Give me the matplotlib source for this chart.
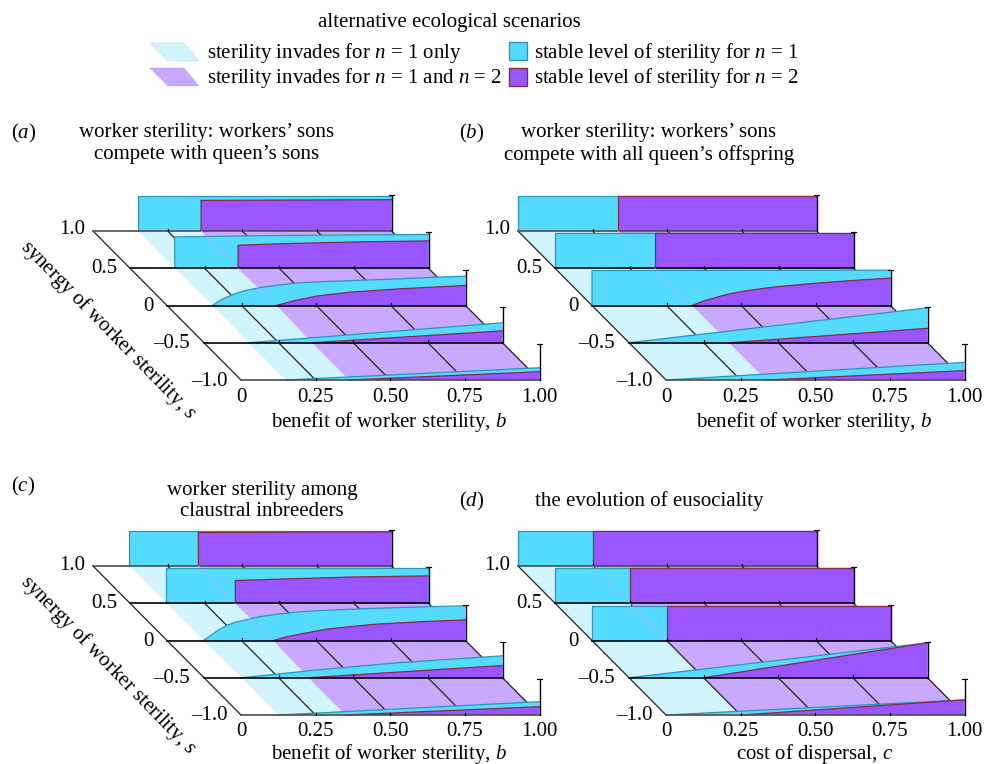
import numpy as np
import matplotlib
matplotlib.use('Agg')
import matplotlib.pyplot as plt
from matplotlib.patches import Polygon

plt.rcParams['font.family'] = ['Liberation Serif', 'DejaVu Serif']
plt.rcParams['mathtext.fontset'] = 'custom'
plt.rcParams['mathtext.rm'] = 'Liberation Serif'
plt.rcParams['mathtext.it'] = 'Liberation Serif:italic'

# rows run from the back (s = 1) to the front (s = -1)
s_labels = ['1.0', '0.5', '0', '\u20130.5', '\u20131.0']
x_ticks = [0, 0.25, 0.50, 0.75, 1.00]
x_labels = ['0', '0.25', '0.50', '0.75', '1.00']

# panel a
a_n1_b = [[.15, 1], [.15, .5, 1],
          [.153, .175, .217, .26, .312, .376, .446, .53, .613, .78, .88, 1],
          [.15, 1], [.15, 1]]
a_n1_z = [[.97, .97], [.87, .91, .94],
          [0, .13, .296, .41, .5, .57, .63, .665, .69, .74, .78, .815],
          [0, .555], [0, .34]]
a_n2_b = [[.362, 1], [.362, .5, .75, 1], [.367, .43, .50, .613, .78, .89, 1], [.362, 1], [.362, 1]]
a_n2_z = [[.85, .87], [.64, .68, .73, .76], [0, .14, .26, .37, .463, .51, .555], [0, .33], [0, .23]]

# panel b
b_n1_b = [[0, 1], [0, 1], [0, 1], [0, 1], [0, 1]]
b_n1_z = [[.97, .97], [.97, .97], [.97, .98], [0, .97], [0, .49]]
b_n2_b = [[.335, 1], [.335, 1], [.335, .38, .426, .47, .515, .57, .627, .71, .795, .9, 1], [.335, 1], [.335, 1]]
b_n2_z = [[.97, .97], [.97, .97], [0, .14, .25, .34, .407, .47, .528, .59, .648, .71, .76], [0, .40], [0, .26]]

# panel c
c_n1_b = [[.122, 1], [.122, 1], [.122, .145, .172, .2, .23, .278, .31, .367, .45, .535, .65, .76, .88, 1],
          [.126, .36, .634, 1], [.125, 1]]
c_n1_z = [[.97, .97], [.97, .97], [0, .13, .29, .42, .51, .6, .66, .73, .80, .84, .88, .91, .94, .963],
          [0, .2, .407, .61], [0, .37]]
c_n2_b = [[.353, 1], [.353, .5, .75, 1], [.356, .4, .445, .535, .62, .70, .87, 1], [.35, 1], [.35, 1]]
c_n2_z = [[.93, .95], [.63, .67, .73, .76], [0, .1, .176, .315, .39, .454, .53, .574], [0, .34], [0, .23]]

# panel d
d_n1_b = [[0, 1], [0, 1], [0, 1], [0, 1], [0, 1]]
d_n1_z = [[.97, .97], [.97, .97], [.97, .97], [0, .97], [0, .42]]
d_n2_b = [[.25, 1], [.25, 1], [.25, 1], [.25, 1], [.25, 1]]
d_n2_z = [[.97, .97], [.97, .97], [.97, .97], [0, .97], [0, .42]]

cyan = '#55DBFF'
purple = '#9955FF'
pale_cyan = '#D2F4FF'
pale_purple = '#C9A8FF'
cyan_edge = '#2797B5'
purple_edge = '#8A2846'

WIDTH = 298.5
HEIGHT = 36.0
ROW_DX = 37.0
ROW_DY = 37.25
FS = 15.0
label_gap = [8, 13, 13, 14, 13]
label_shift = [-1, 0, 1, 1, 1]


def proj(ox, oy, b, row, z=0.0):
    return ox + row * ROW_DX + b * WIDTH, oy + row * ROW_DY - z * HEIGHT


def wall(ax, ox, oy, row, bs, zs, face, edge, zorder):
    top = [proj(ox, oy, b, row, z) for b, z in zip(bs, zs)]
    pts = top + [proj(ox, oy, bs[-1], row), proj(ox, oy, bs[0], row)]
    ax.add_patch(Polygon(pts, closed=True, facecolor=face, edgecolor='none', zorder=zorder))
    pts = np.array([proj(ox, oy, bs[0], row)] + top)
    ax.plot(pts[:, 0], pts[:, 1], color=edge, lw=0.9, zorder=zorder + 0.1)


def panel(ax, ox, oy, n1_b, n1_z, n2_b, n2_z, xlabel, xlabel_y, ylabel=None):
    # floor bands between neighbouring rows
    for r in range(4):
        a0, a1 = n1_b[r][0], n1_b[r + 1][0]
        p0, p1 = n2_b[r][0], n2_b[r + 1][0]
        ax.add_patch(Polygon([proj(ox, oy, a0, r), proj(ox, oy, p0, r),
                              proj(ox, oy, p1, r + 1), proj(ox, oy, a1, r + 1)],
                             facecolor=pale_cyan, edgecolor='none', zorder=1))
        ax.add_patch(Polygon([proj(ox, oy, p0, r), proj(ox, oy, 1, r),
                              proj(ox, oy, 1, r + 1), proj(ox, oy, p1, r + 1)],
                             facecolor=pale_purple, edgecolor='none', zorder=1))
    # floor grid
    for t in x_ticks:
        x0, y0 = proj(ox, oy, t, 0)
        x1, y1 = proj(ox, oy, t, 4)
        ax.plot([x0, x1], [y0, y1], color='#222222', lw=0.9, zorder=2)
    # walls, back to front
    for r in range(5):
        z = 3 + r
        wall(ax, ox, oy, r, n1_b[r], n1_z[r], cyan, cyan_edge, z)
        wall(ax, ox, oy, r, n2_b[r], n2_z[r], purple, purple_edge, z + 0.2)
        x0, y0 = proj(ox, oy, 0, r)
        x1, y1 = proj(ox, oy, 1, r)
        ax.plot([x0, x1], [y0, y1], color='#4d4d4d' if r in (0, 4) else 'black', lw=1.2, zorder=z + 0.4)
        for t in x_ticks[1:-1]:
            xt, yt = proj(ox, oy, t, r)
            ax.plot([xt, xt], [yt, yt - 2.5], color='black', lw=0.8, zorder=z + 0.4)
        xe, ye = proj(ox, oy, 1, r, 1.0)
        ax.plot([xe, xe], [y1, ye], color='black', lw=1.0, zorder=z + 0.4)
        ax.plot([xe - 2.5, xe + 2.5], [ye, ye], color='black', lw=0.8, zorder=z + 0.4)
        ax.text(x0 - label_gap[r], y0 + label_shift[r], s_labels[r], ha='right', va='center',
                fontsize=FS, zorder=20)
        if r < 2:
            # pale seam of the n = 2 boundary seen through the cyan wall
            xa, ya = proj(ox, oy, n2_b[r][0], r)
            xb, yb = proj(ox, oy, n2_b[r + 1][0], r + 1)
            ax.plot([xa, xb], [ya, yb], color='#C9A8FF', lw=0.8, ls=(0, (2, 2)), zorder=12)
    for t, lab in zip(x_ticks, x_labels):
        xt, yt = proj(ox, oy, t, 4)
        ax.text(xt, yt + 17, lab, ha='center', va='center', fontsize=FS)
    ax.text(ox + 147 + WIDTH / 2, xlabel_y, xlabel, ha='center', va='center', fontsize=FS)
    if ylabel:
        ax.text(ox + 15, oy + 99, ylabel, ha='center', va='center', rotation=-45.6,
                rotation_mode='anchor', fontsize=FS)


fig = plt.figure(figsize=(9.87, 7.64), dpi=100)
ax = fig.add_axes([0, 0, 1, 1])
ax.set_xlim(0, 987)
ax.set_ylim(764, 0)
ax.axis('off')

# legend
ax.text(449, 23, 'alternative ecological scenarios', ha='center', va='center', fontsize=FS)
ax.add_patch(Polygon([(150, 43), (184, 43), (199, 61), (168, 61)], facecolor=pale_cyan,
                     edgecolor='#9ad0de', lw=0.6, ls=':'))
ax.add_patch(Polygon([(150, 68), (184, 68), (199, 86), (168, 86)], facecolor=pale_purple,
                     edgecolor='#a98ad8', lw=0.6, ls=':'))
ax.add_patch(Polygon([(509, 42), (527, 42), (527, 60), (509, 60)], facecolor=cyan,
                     edgecolor=cyan_edge, lw=1))
ax.add_patch(Polygon([(509, 68), (527, 68), (527, 86), (509, 86)], facecolor=purple,
                     edgecolor=purple_edge, lw=1))
ax.text(207, 53, r'sterility invades for $n$ = 1 only', va='center', fontsize=FS)
ax.text(207, 78, r'sterility invades for $n$ = 1 and $n$ = 2', va='center', fontsize=FS)
ax.text(534, 53, r'stable level of sterility for $n$ = 1', va='center', fontsize=FS)
ax.text(534, 78, r'stable level of sterility for $n$ = 2', va='center', fontsize=FS)

# panel headings
ax.text(11, 133, r'($a$)', va='center', fontsize=FS)
ax.text(207, 133, "worker sterility: workers\u2019 sons", ha='center', va='center', fontsize=FS)
ax.text(207, 155, "compete with queen\u2019s sons", ha='center', va='center', fontsize=FS)
ax.text(459, 133, r'($b$)', va='center', fontsize=FS)
ax.text(649, 133, "worker sterility: workers\u2019 sons", ha='center', va='center', fontsize=FS)
ax.text(649, 155, "compete with all queen\u2019s offspring", ha='center', va='center', fontsize=FS)
ax.text(11, 486, r'($c$)', va='center', fontsize=FS)
ax.text(262, 490, 'worker sterility among', ha='center', va='center', fontsize=FS)
ax.text(262, 512, 'claustral inbreeders', ha='center', va='center', fontsize=FS)
ax.text(459, 501, r'($d$)', va='center', fontsize=FS)
ax.text(649, 501, 'the evolution of eusociality', ha='center', va='center', fontsize=FS)

syn = r'synergy of worker sterility, $s$'
ben = r'benefit of worker sterility, $b$'
panel(ax, 93, 231, a_n1_b, a_n1_z, a_n2_b, a_n2_z, ben, 422, syn)
panel(ax, 518, 231, b_n1_b, b_n1_z, b_n2_b, b_n2_z, ben, 422)
panel(ax, 93, 566, c_n1_b, c_n1_z, c_n2_b, c_n2_z, ben, 754, syn)
panel(ax, 518, 566, d_n1_b, d_n1_z, d_n2_b, d_n2_z, r'cost of dispersal, $c$', 754)

fig.savefig('out.png', dpi=100)
